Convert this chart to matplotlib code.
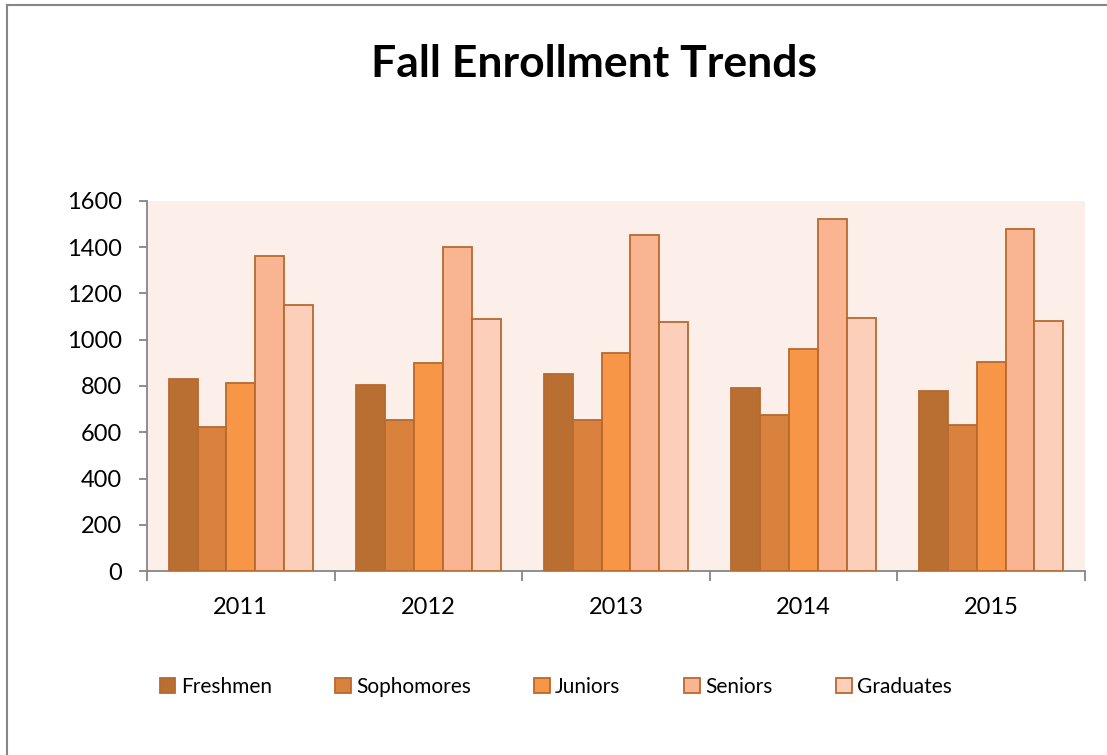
import matplotlib.pyplot as plt
import numpy as np
from matplotlib.lines import Line2D

years = ['2011', '2012', '2013', '2014', '2015']
groups = ['Freshmen', 'Sophomores', 'Juniors', 'Seniors', 'Graduates']
freshmen = [830, 806, 854, 790, 777]
sophomores = [621, 651, 654, 676, 633]
juniors = [811, 898, 944, 961, 902]
seniors = [1363, 1401, 1452, 1522, 1479]
graduates = [1152, 1091, 1075, 1095, 1082]

series = [freshmen, sophomores, juniors, seniors, graduates]
colors = ['#B96F32', '#D9823E', '#F79646', '#F9B591', '#FBCFBA']
edge = '#B8692E'

plt.rcParams['font.family'] = ['Lato', 'DejaVu Sans']

fig = plt.figure(figsize=(11.07, 7.55), dpi=100)
ax = fig.add_axes([0.1328, 0.2437, 0.8473, 0.4901])
ax.set_facecolor('#FCEEE9')

x = np.arange(len(years))
w = 1 / 6.5
for i, vals in enumerate(series):
    ax.bar(x + (i - 2) * w, vals, width=w, color=colors[i], edgecolor=edge,
           linewidth=1.3, label=groups[i], zorder=3)

ax.set_xlim(-0.5, 4.5)
ax.set_ylim(0, 1600)
ax.set_yticks(range(0, 1601, 200))
ax.set_xticks(x)
ax.set_xticklabels(years)
ax.set_xticks(np.arange(-0.5, 5, 1), minor=True)
ax.tick_params(axis='x', which='major', length=0, pad=19, labelsize=17)
ax.tick_params(axis='x', which='minor', length=7, width=1.3, color='#868686')
ax.tick_params(axis='y', length=6, width=1.3, color='#868686', pad=12, labelsize=17)
for s in ['top', 'right']:
    ax.spines[s].set_visible(False)
for s in ['left', 'bottom']:
    ax.spines[s].set_color('#868686')
    ax.spines[s].set_linewidth(1.3)

fig.text(0.537, 0.915, 'Fall Enrollment Trends', ha='center', va='center',
         fontsize=32, fontweight='bold')

fig.legend(loc='center', bbox_to_anchor=(0.502, 0.09), ncol=5, frameon=False,
           fontsize=15, handlelength=0.75, handleheight=0.75, handletextpad=0.25,
           columnspacing=3.05)

# outer chart border: only left and top edges fall inside the image
bx, by = 7 / 1107, 1 - 5 / 755
fig.add_artist(Line2D([bx, bx], [0, by], transform=fig.transFigure,
                      color='#868686', linewidth=1.5))
fig.add_artist(Line2D([bx, 1], [by, by], transform=fig.transFigure,
                      color='#868686', linewidth=1.5))

fig.savefig('out.png', dpi=100)
